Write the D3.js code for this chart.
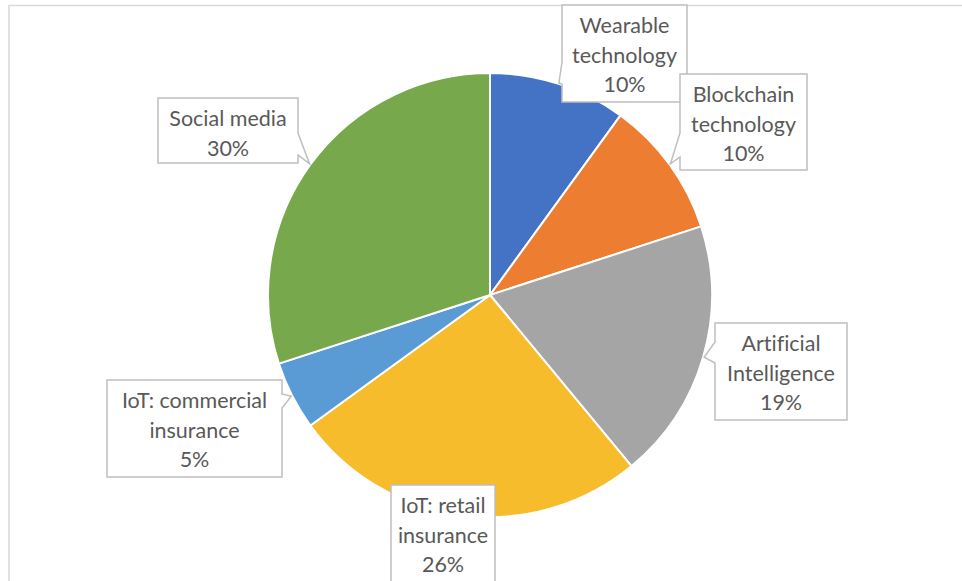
<!DOCTYPE html>
<html>
<head>
<meta charset="utf-8">
<script src="https://cdn.jsdelivr.net/npm/d3@7"></script>
<style>
  html, body { margin: 0; padding: 0; background: #fff; }
  svg { display: block; }
  .lbl { font-family: Lato, "Open Sans", sans-serif; font-size: 21.5px; fill: #595959; font-variant-ligatures: none; font-feature-settings: "liga" 0; }
</style>
</head>
<body>
<svg id="chart" width="962" height="581"></svg>
<script>
// Share of respondents by technology area (percent)
const categories = [
  "Wearable technology",
  "Blockchain technology",
  "Artificial Intelligence",
  "IoT: retail insurance",
  "IoT: commercial insurance",
  "Social media"
];
const values = [10, 10, 19, 26, 5, 30];
const colors = ["#4472C4", "#ED7D31", "#A5A5A5", "#F6BC2C", "#5B9BD5", "#77A84C"];

// Label text split into lines
const labelLines = [
  ["Wearable", "technology"],
  ["Blockchain", "technology"],
  ["Artificial", "Intelligence"],
  ["IoT: retail", "insurance"],
  ["IoT: commercial", "insurance"],
  ["Social media"]
];

// Callout box placement: box rect, which side carries the pointer and the pointer base span
const callouts = [
  { x: 562, y: 5,   w: 125, h: 97, side: "left",  b0: 62,  b1: 84 },
  { x: 680, y: 74,  w: 127, h: 96, side: "left",  b0: 133, b1: 157 },
  { x: 715, y: 323, w: 132, h: 97, side: "left",  b0: 342, b1: 363 },
  { x: 391, y: 485, w: 104, h: 110, side: null },
  { x: 107, y: 380, w: 175, h: 97, side: "right", b0: 394, b1: 408 },
  { x: 158, y: 98,  w: 140, h: 65, side: "right", b0: 133, b1: 155 }
];

const svg = d3.select("#chart");
const cx = 490, cy = 295, radius = 222;

// Chart area frame (runs off the right and bottom edges)
svg.append("path")
  .attr("d", "M9,600 L9,5.5 L980,5.5")
  .attr("fill", "none")
  .attr("stroke", "#D9D9D9")
  .attr("stroke-width", 1.5);

const data = categories.map((c, i) => ({ name: c, value: values[i], color: colors[i], lines: labelLines[i], box: callouts[i] }));

const pie = d3.pie().value(d => d.value).sort(null);
const arcs = pie(data);
const arc = d3.arc().innerRadius(0).outerRadius(radius);

const g = svg.append("g").attr("transform", `translate(${cx},${cy})`);
g.selectAll("path.slice")
  .data(arcs)
  .join("path")
  .attr("class", "slice")
  .attr("d", arc)
  .attr("fill", d => d.data.color)
  .attr("stroke", "#fff")
  .attr("stroke-width", 2)
  .attr("stroke-linejoin", "round");

// Callout shape: rectangle with a wedge pointing at the slice edge
function calloutPath(b, tip) {
  const x0 = b.x, y0 = b.y, x1 = b.x + b.w, y1 = b.y + b.h;
  if (b.side === "left") {
    return `M${x0},${y0} L${x1},${y0} L${x1},${y1} L${x0},${y1} L${x0},${b.b1} L${tip[0]},${tip[1]} L${x0},${b.b0} Z`;
  }
  if (b.side === "right") {
    return `M${x0},${y0} L${x1},${y0} L${x1},${b.b0} L${tip[0]},${tip[1]} L${x1},${b.b1} L${x1},${y1} L${x0},${y1} Z`;
  }
  return `M${x0},${y0} L${x1},${y0} L${x1},${y1} L${x0},${y1} Z`;
}

const labels = svg.selectAll("g.callout")
  .data(arcs)
  .join("g")
  .attr("class", "callout");

labels.append("path")
  .attr("d", d => {
    const mid = (d.startAngle + d.endAngle) / 2;
    const tip = [cx + Math.sin(mid) * (radius + 1), cy - Math.cos(mid) * (radius + 1)];
    return calloutPath(d.data.box, tip);
  })
  .attr("fill", "#fff")
  .attr("stroke", "#BFBFBF")
  .attr("stroke-width", 1.5)
  .attr("stroke-linejoin", "miter");

labels.each(function(d) {
  const b = d.data.box;
  const lines = d.data.lines.concat([d3.format(".0%")(d.data.value / 100)]);
  const lh = 29.5;
  const firstBaseline = b.y + 28;
  const t = d3.select(this).append("text")
    .attr("class", "lbl")
    .attr("text-anchor", "middle");
  lines.forEach((ln, i) => {
    t.append("tspan")
      .attr("x", b.x + b.w / 2)
      .attr("y", firstBaseline + i * lh)
      .text(ln);
  });
});
</script>
</body>
</html>
